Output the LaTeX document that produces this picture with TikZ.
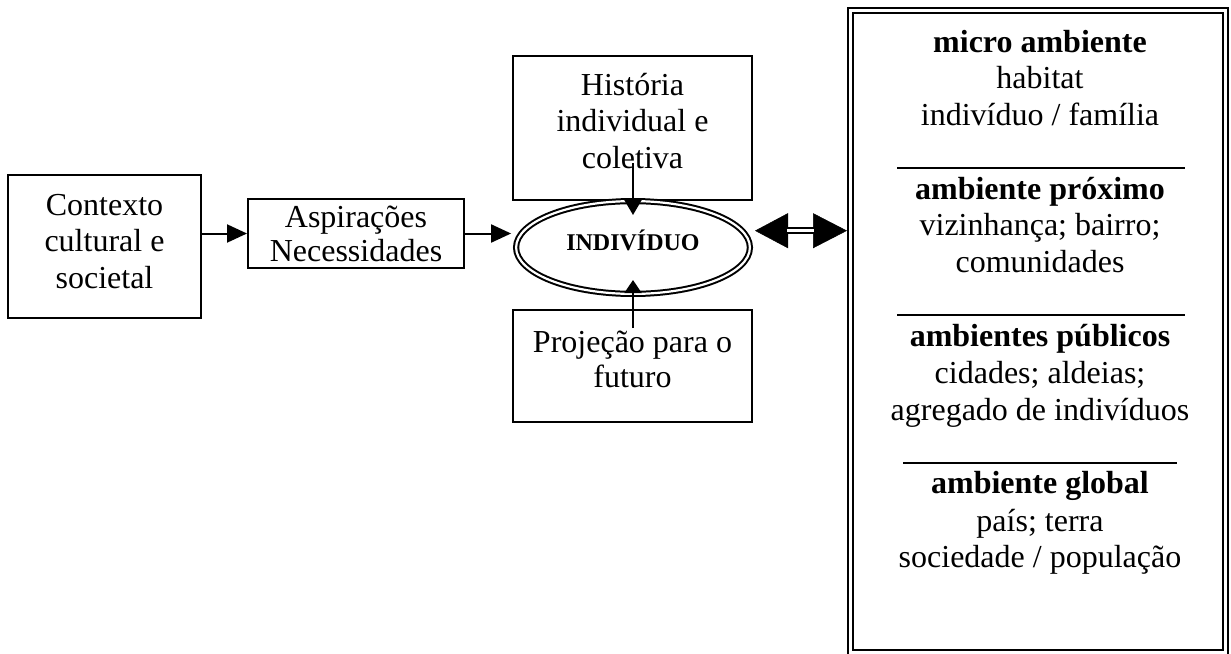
\documentclass[tikz,border=0pt]{standalone}
\usepackage{fontspec}
\setmainfont{Liberation Serif}
\usetikzlibrary{arrows.meta,shapes.geometric}
\begin{document}
\begin{tikzpicture}[x=1pt,y=-1pt,
  box/.style={draw, line width=2pt, inner sep=0pt},
  txt/.style={align=center, inner sep=0pt, font=\fontsize{32}{36.5}\selectfont},
  arr/.style={line width=2pt, -{Triangle[length=20pt,width=18pt]}},
  varr/.style={line width=2pt, -{Triangle[length=15pt,width=17pt]}},
  rule/.style={line width=1.5pt},
]
\useasboundingbox (0,0) rectangle (1231,653);

% left boxes
\node[box, minimum width=193pt, minimum height=143pt] (ctx) at (104.5,246.5) {};
\node[txt, anchor=base] (ctxT) at (104.5,288) {Contexto\\cultural e\\societal};

\node[box, minimum width=216pt, minimum height=69pt] (asp) at (356,233.5) {};
\node[txt, anchor=base] (aspT) at (356,261) {Aspirações\\[-2.5pt]Necessidades};

\node[box, minimum width=239pt, minimum height=144pt] (hist) at (632.5,128) {};
\node[txt, anchor=base] (histT) at (632.5,168) {História\\individual e\\coletiva};

\node[box, minimum width=239pt, minimum height=112pt] (proj) at (632.5,366) {};
\node[txt, anchor=base] (projT) at (632.5,387) {Projeção para o\\[-1.5pt]futuro};

% central ellipse
\node[draw, ellipse, double, double distance=2.2pt, line width=2pt,
      minimum width=233.8pt, minimum height=92.8pt, inner sep=0pt] (ind) at (633,247.5) {};
\node[anchor=base, inner sep=0pt, font=\bfseries\fontsize{24}{27}\selectfont] (indT) at (633,250) {INDIVÍDUO};

% arrows
\draw[arr] (ctx.east |- asp.east) -- (asp.west);
\draw[arr, shorten >=4pt] (asp.east) -- (asp.east -| ind.west);
\coordinate (hs) at (633,163);
\coordinate (ht) at (633,215);
\draw[varr] (hs) -- (ht);
\coordinate (ps) at (633,328);
\coordinate (pt) at (633,280);
\draw[varr, -{Triangle[length=13pt,width=17pt]}] (ps) -- (pt);

% double-headed double arrow
\coordinate (dA) at (755,230.7);
\coordinate (dB) at (847,230.7);
\coordinate (dA1) at (787,230.7);
\coordinate (dB1) at (814,230.7);
\draw[white, line width=0.5pt, {Triangle[black,length=33pt,width=35pt]}-{Triangle[black,length=34pt,width=35pt]}] (dA) -- (dB);
\draw[double, line width=2pt, double distance=2.5pt] (dA1) -- (dB1);

% big frame
\node[draw, double, line width=2pt, double distance=3pt, minimum width=375pt,
      minimum height=641.7pt, inner sep=0pt] (big) at (1038,331.35) {};

\node[txt, anchor=base] (t1) at (1040,125) {\textbf{micro ambiente}\\habitat\\indivíduo / família};
\draw[rule] (897,168) -- (1185,168);
\node[txt, anchor=base] (t2) at (1040,272) {\textbf{ambiente próximo}\\vizinhança; bairro;\\comunidades};
\draw[rule] (897,315) -- (1185,315);
\node[txt, anchor=base] (t3) at (1040,420) {\textbf{ambientes públicos}\\[0.5pt]cidades; aldeias;\\[0.5pt]agregado de indivíduos};
\draw[rule] (903,463) -- (1177,463);
\node[txt, anchor=base] (t4) at (1040,567) {\textbf{ambiente global}\\[2pt]país; terra\\[-1pt]sociedade / população};
\end{tikzpicture}
\end{document}
